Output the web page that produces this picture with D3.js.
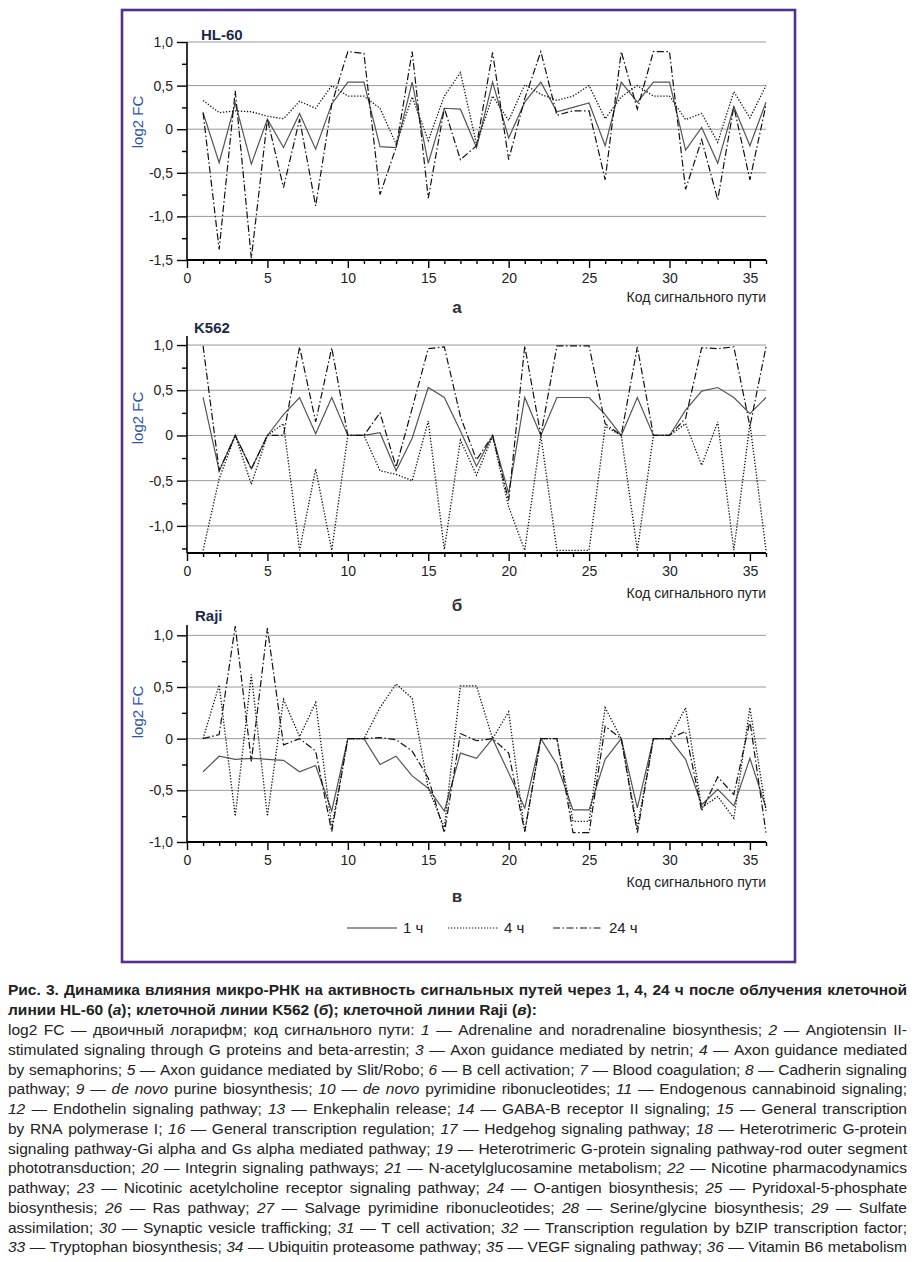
<!DOCTYPE html>
<html><head><meta charset="utf-8">
<script src="https://cdn.jsdelivr.net/npm/d3@7/dist/d3.min.js"></script>
<style>body{margin:0;background:#fff}svg{display:block}</style>
</head><body>
<svg id="c" width="916" height="1262"></svg>
<script>
// ---- DATA ----
const codes = d3.range(1, 37);
const seriesNames = ["1 ч", "4 ч", "24 ч"];
const hl60_1h  = [0.19,-0.385,0.3,-0.4,0.115,-0.21,0.18,-0.23,0.29,0.54,0.54,-0.2,-0.21,0.54,-0.39,0.24,0.23,-0.21,0.54,-0.1,0.31,0.54,0.2,0.25,0.3,-0.19,0.54,0.31,0.54,0.54,-0.24,0.02,-0.39,0.26,-0.19,0.31];
const hl60_4h  = [0.33,0.19,0.21,0.2,0.15,0.12,0.32,0.24,0.5,0.38,0.38,0.24,-0.17,0.37,-0.13,0.38,0.65,-0.17,0.38,0.1,0.51,0.4,0.33,0.38,0.5,0.12,0.37,0.5,0.38,0.38,0.11,0.18,-0.15,0.43,0.13,0.5];
const hl60_24h = [0.19,-1.38,0.44,-1.48,0.115,-0.67,0.115,-0.88,0.29,0.89,0.87,-0.75,-0.21,0.89,-0.79,0.24,-0.35,-0.19,0.88,-0.35,0.35,0.89,0.16,0.21,0.21,-0.58,0.89,0.23,0.89,0.89,-0.69,-0.12,-0.81,0.26,-0.58,0.28];
const k562_1h  = [0.42,-0.39,0,-0.37,0,0.23,0.42,0.02,0.42,0,0,0.03,-0.39,-0.03,0.53,0.42,0.05,-0.34,0,-0.64,0.42,0,0.42,0.42,0.42,0.23,0,0.42,0,0,0.28,0.49,0.53,0.42,0.24,0.42];
const k562_4h  = [-1.27,-0.48,0,-0.54,0,0.13,-1.27,-0.37,-1.27,0,0,-0.39,-0.43,-0.5,0.16,-1.26,-0.05,-0.44,-0.01,-0.79,-1.27,0,-1.27,-1.27,-1.27,0.1,0,-1.27,0,0,0.13,-0.33,0.15,-1.27,0.13,-1.27];
const k562_24h = [0.99,-0.39,0,-0.37,0,0,0.98,0.15,0.97,0,0,0.25,-0.35,0.3,0.96,0.98,0.21,-0.27,0,-0.72,0.99,0,0.99,0.99,0.99,0.13,0,0.98,0,0,0.19,0.97,0.96,0.98,0.1,0.98];
const raji_1h  = [-0.32,-0.17,-0.2,-0.19,-0.2,-0.21,-0.32,-0.26,-0.7,0,0,-0.25,-0.17,-0.36,-0.48,-0.7,-0.14,-0.19,0,-0.33,-0.67,0,-0.25,-0.69,-0.69,-0.2,0,-0.67,0,0,-0.2,-0.64,-0.49,-0.65,-0.19,-0.67];
const raji_4h  = [0,0.52,-0.75,0.62,-0.75,0.38,0.02,0.35,-0.86,0,0,0.3,0.53,0.39,-0.48,-0.86,0.51,0.51,0,0.26,-0.9,0,0,-0.8,-0.8,0.3,0,-0.86,0,0,0.3,-0.67,-0.56,-0.77,0.3,-0.7];
const raji_24h = [0,0.04,1.09,-0.22,1.07,-0.06,0,-0.12,-0.9,0,0,0.01,-0.01,-0.12,-0.38,-0.91,0.05,-0.02,0,-0.14,-0.9,0,0,-0.91,-0.91,0.12,0,-0.91,0,0,0.07,-0.7,-0.37,-0.54,0.17,-0.91];
const xTicks = d3.range(0, 37);
const xTickLabels = [0, 5, 10, 15, 20, 25, 30, 35];
const panelTitles = ["HL-60", "K562", "Raji"];
const panelLetters = ["а", "б", "в"];
const xLabel = "Код сигнального пути";
const yLabel = "log2 FC";

const captionBold = [
  "Рис. 3. Динамика влияния микро-РНК на активность сигнальных путей через 1, 4, 24 ч после облучения клеточной",
  "линии HL-60 (*а*); клеточной линии K562 (*б*); клеточной линии Raji (*в*):"
];
const captionBody = [
  "log2 FC — двоичный логарифм; код сигнального пути: *1* — Adrenaline and noradrenaline biosynthesis; *2* — Angiotensin II-",
  "stimulated signaling through G proteins and beta-arrestin; *3* — Axon guidance mediated by netrin; *4* — Axon guidance mediated",
  "by semaphorins; *5* — Axon guidance mediated by Slit/Robo; *6* — B cell activation; *7* — Blood coagulation; *8* — Cadherin signaling",
  "pathway; *9* — *de novo* purine biosynthesis; *10* — *de novo* pyrimidine ribonucleotides; *11* — Endogenous cannabinoid signaling;",
  "*12* — Endothelin signaling pathway; *13* — Enkephalin release; *14* — GABA-B receptor II signaling; *15* — General transcription",
  "by RNA polymerase I; *16* — General transcription regulation; *17* — Hedgehog signaling pathway; *18* — Heterotrimeric G-protein",
  "signaling pathway-Gi alpha and Gs alpha mediated pathway; *19* — Heterotrimeric G-protein signaling pathway-rod outer segment",
  "phototransduction; *20* — Integrin signaling pathways; *21* — N-acetylglucosamine metabolism; *22* — Nicotine pharmacodynamics",
  "pathway; *23* — Nicotinic acetylcholine receptor signaling pathway; *24* — O-antigen biosynthesis; *25* — Pyridoxal-5-phosphate",
  "biosynthesis; *26* — Ras pathway; *27* — Salvage pyrimidine ribonucleotides; *28* — Serine/glycine biosynthesis; *29* — Sulfate",
  "assimilation; *30* — Synaptic vesicle trafficking; *31* — T cell activation; *32* — Transcription regulation by bZIP transcription factor;",
  "*33* — Tryptophan biosynthesis; *34* — Ubiquitin proteasome pathway; *35* — VEGF signaling pathway; *36* — Vitamin B6 metabolism"
];

// ---- LAYOUT ----
const svg = d3.select("#c");
const FONT = "'Liberation Sans', Arial, Helvetica, sans-serif";
svg.attr("font-family", FONT);

svg.append("rect").attr("x", 122).attr("y", 10).attr("width", 673).attr("height", 952)
  .attr("fill", "none").attr("stroke", "#51308f").attr("stroke-width", 2.6);

const styles = [
  {stroke: "#555", width: 1.2, dash: null},
  {stroke: "#111", width: 1.3, dash: "1.3,1.7"},
  {stroke: "#111", width: 1.2, dash: "7,2.5,1.5,2.5"}
];

const panels = [
  {data: [hl60_1h, hl60_4h, hl60_24h], domain: [-1.5, 1.0], bottom: 260, top: 42,
   titleY: 40, titleX: 201, letterY: 313, xlabY: 302, ylabY: 122},
  {data: [k562_1h, k562_4h, k562_24h], domain: [-1.3, 1.1], bottom: 553, top: 336,
   titleY: 333, titleX: 194, letterY: 611, xlabY: 598, ylabY: 418},
  {data: [raji_1h, raji_4h, raji_24h], domain: [-1.0, 1.1], bottom: 842, top: 625,
   titleY: 621, titleX: 195, letterY: 902, xlabY: 887, ylabY: 712}
];

const X0 = 187, X1 = 766;
const x = d3.scaleLinear().domain([0, 36]).range([X0, X1]);
const fmt = v => v === 0 ? "0" : d3.format(".1f")(v).replace(".", ",").replace("−", "-");

panels.forEach((p, pi) => {
  const g = svg.append("g");
  const y = d3.scaleLinear().domain(p.domain).range([p.bottom, p.top]);
  const majors = d3.range(Math.ceil(p.domain[0] * 2) / 2, p.domain[1] + 1e-9, 0.5).map(v => +v.toFixed(2));
  const minors = d3.range(Math.ceil(p.domain[0] * 4) / 4, p.domain[1] + 1e-9, 0.25)
    .map(v => +v.toFixed(2)).filter(v => !majors.includes(v));

  // grid lines
  g.selectAll(".grid").data(majors.filter(v => Math.abs(y(v) - p.bottom) > 1)).join("line")
    .attr("x1", X0).attr("x2", X1).attr("y1", d => y(d)).attr("y2", d => y(d))
    .attr("stroke", "#999").attr("stroke-width", 1);

  // series
  const line = d3.line().x((d, i) => x(codes[i])).y(d => y(d));
  p.data.forEach((s, si) => {
    g.append("path").datum(s).attr("d", line).attr("fill", "none")
      .attr("stroke", styles[si].stroke).attr("stroke-width", styles[si].width)
      .attr("stroke-dasharray", styles[si].dash).attr("stroke-linejoin", "miter");
  });

  // Y axis
  const yAxis = d3.axisLeft(y).tickValues(majors).tickSize(10).tickPadding(4).tickFormat(fmt);
  const ya = g.append("g").attr("transform", `translate(${X0},0)`).call(yAxis);
  ya.select(".domain").remove();
  ya.selectAll(".tick line").attr("stroke", "#000").attr("stroke-width", 1.4);
  ya.selectAll("text").attr("font-size", 14).attr("fill", "#222").attr("font-family", FONT);
  const yMin = g.append("g").attr("transform", `translate(${X0},0)`)
    .call(d3.axisLeft(y).tickValues(minors).tickSize(5).tickFormat(""));
  yMin.select(".domain").remove();
  yMin.selectAll(".tick line").attr("stroke", "#000").attr("stroke-width", 1.4);
  g.append("line").attr("x1", X0).attr("x2", X0).attr("y1", p.top).attr("y2", p.bottom)
    .attr("stroke", "#000").attr("stroke-width", 1.6);

  // X axis
  const xMinor = g.append("g").attr("transform", `translate(0,${p.bottom})`)
    .call(d3.axisBottom(x).tickValues(xTicks.filter(v => !xTickLabels.includes(v))).tickSize(4).tickFormat(""));
  xMinor.select(".domain").remove();
  xMinor.selectAll(".tick line").attr("stroke", "#000").attr("stroke-width", 1.4);
  const xMaj = g.append("g").attr("transform", `translate(0,${p.bottom})`)
    .call(d3.axisBottom(x).tickValues(xTickLabels).tickSize(8).tickPadding(5).tickFormat(d3.format("d")));
  xMaj.select(".domain").remove();
  xMaj.selectAll(".tick line").attr("stroke", "#000").attr("stroke-width", 1.4);
  xMaj.selectAll("text").attr("font-size", 14).attr("fill", "#222").attr("font-family", FONT);
  g.append("line").attr("x1", X0).attr("x2", X1).attr("y1", p.bottom).attr("y2", p.bottom)
    .attr("stroke", "#000").attr("stroke-width", 1.8);

  // labels
  g.append("text").attr("x", p.titleX).attr("y", p.titleY).text(panelTitles[pi])
    .attr("font-size", 15).attr("font-weight", "bold").attr("fill", "#1c2a48");
  g.append("text").attr("x", X1).attr("y", p.xlabY).attr("text-anchor", "end").text(xLabel)
    .attr("font-size", 14).attr("fill", "#222");
  g.append("text").attr("x", 457).attr("y", p.letterY).attr("text-anchor", "middle").text(panelLetters[pi])
    .attr("font-size", 17).attr("font-weight", "bold").attr("fill", "#333");
  g.append("text").attr("transform", `translate(143,${p.ylabY}) rotate(-90)`).attr("text-anchor", "middle")
    .text(yLabel).attr("font-size", 15).attr("fill", "#2f56a6");
});

// ---- LEGEND ----
const leg = svg.append("g");
const legX = [347, 448, 553];
seriesNames.forEach((n, i) => {
  leg.append("line").attr("x1", legX[i]).attr("x2", legX[i] + 50).attr("y1", 928).attr("y2", 928)
    .attr("stroke", styles[i].stroke === "#555" ? "#333" : "#111").attr("stroke-width", 1.2)
    .attr("stroke-dasharray", styles[i].dash);
  leg.append("text").attr("x", legX[i] + 56).attr("y", 933).text(n).attr("font-size", 15).attr("fill", "#222");
});

// ---- CAPTION ----
const CAPFS = 15.5;
const cap = svg.append("g").attr("fill", "#222").attr("font-size", CAPFS);
let italicState = false;
function drawCapLine(str, y, bold, justify) {
  const words = str.split(" ");
  const items = [];
  words.forEach(w => {
    const t = cap.append("text").attr("y", y).attr("font-weight", bold ? "bold" : "normal");
    const parts = w.split("*");
    parts.forEach((part, i) => {
      if (i > 0) italicState = !italicState;
      if (part.length) t.append("tspan").attr("font-style", italicState ? "italic" : "normal").text(part);
    });
    items.push(t);
  });
  let widths = items.map(t => t.node().getComputedTextLength());
  const L = 8, R = 907;
  let gap = CAPFS * 0.278;
  let total = d3.sum(widths);
  if (justify && items.length > 1) {
    gap = (R - L - total) / (items.length - 1);
    if (gap < 2.5) {
      // too long: compress words slightly
      const k = (R - L - 2.5 * (items.length - 1)) / total;
      items.forEach((t, i) => { t.attr("textLength", widths[i] * k).attr("lengthAdjust", "spacingAndGlyphs"); });
      widths = widths.map(w => w * k);
      gap = 2.5;
    }
  }
  let xx = L;
  items.forEach((t, i) => { t.attr("x", xx); xx += widths[i] + gap; });
}
drawCapLine(captionBold[0], 995, true, true);
drawCapLine(captionBold[1], 1015, true, false);
captionBody.forEach((s, i) => drawCapLine(s, 1035 + i * 19.77, false, true));
</script>
</body></html>
